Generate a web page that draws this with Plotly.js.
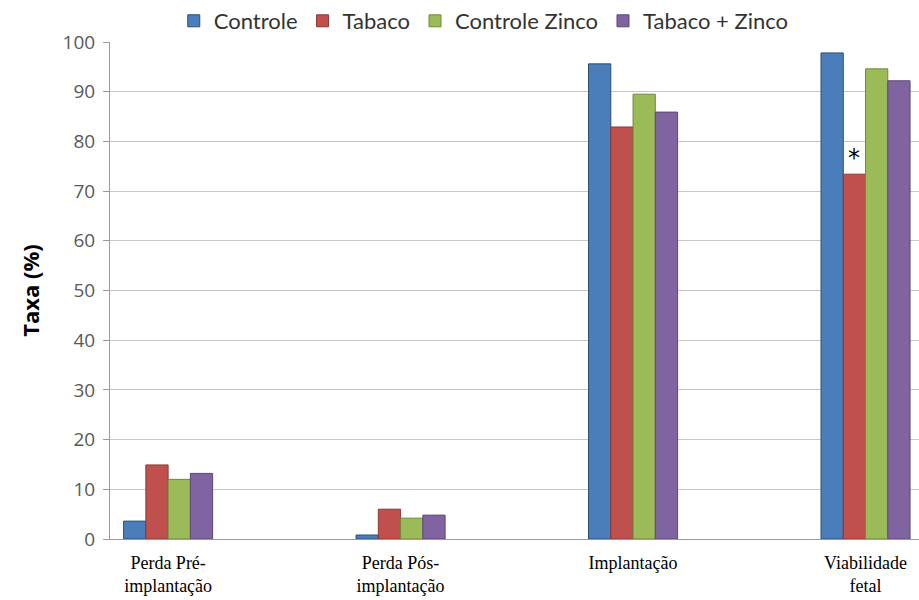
<!DOCTYPE html>
<html>
<head>
<meta charset="utf-8">
<script src="https://cdn.plot.ly/plotly-3.0.1.min.js"></script>
<style>html,body{margin:0;padding:0;background:#fff;}#chart{width:919px;height:600px;}</style>
</head>
<body>
<div id="chart"></div>
<script>
const categories = ["Perda Pré-<br>implantação", "Perda Pós-<br>implantação", "Implantação", "Viabilidade<br>fetal"];
const seriesNames = ["Controle", "Tabaco", "Controle Zinco", "Tabaco + Zinco"];
const controle = [3.6, 0.8, 95.6, 97.8];
const tabaco = [14.9, 6.0, 82.9, 73.4];
const controleZinco = [12.0, 4.2, 89.5, 94.6];
const tabacoZinco = [13.2, 4.8, 85.9, 92.2];
const yTicks = [0, 10, 20, 30, 40, 50, 60, 70, 80, 90, 100];

const colors = ["#4A7EBB", "#C0504D", "#9BBB59", "#8064A2"];
const lineColors = ["#2C4D75", "#8C3836", "#71893F", "#5C4776"];
const values = [controle, tabaco, controleZinco, tabacoZinco];
const bargap = 0.617;

const traces = values.map((v, i) => ({
  type: "bar",
  name: seriesNames[i],
  x: [0, 1, 2, 3],
  y: v,
  marker: {color: colors[i], line: {color: lineColors[i], width: 1}},
  hoverinfo: "x+y+name"
}));

const barWidth = (1 - bargap) / 4;

const layout = {
  width: 919,
  height: 600,
  margin: {l: 110, r: 0, t: 42, b: 61},
  paper_bgcolor: "#ffffff",
  plot_bgcolor: "#ffffff",
  barmode: "group",
  bargap: bargap,
  bargroupgap: 0,
  showlegend: true,
  legend: {
    orientation: "h",
    x: 0.462, xanchor: "center",
    y: 1.0, yanchor: "bottom",
    font: {family: "Lato, 'Open Sans', sans-serif", size: 22, color: "#333333"},
    itemwidth: 30,
    traceorder: "normal",
    tracegroupgap: 0
  },
  xaxis: {
    type: "linear",
    range: [-0.25, 3.23],
    tickmode: "array",
    tickvals: [0, 1, 2, 3],
    ticktext: categories,
    showgrid: false,
    zeroline: false,
    showline: true,
    linecolor: "#9a9a9a",
    linewidth: 1,
    ticks: "",
    ticklabelstandoff: 7,
    tickfont: {family: "'Liberation Serif', 'Times New Roman', serif", size: 18, color: "#000000"},
    fixedrange: true
  },
  yaxis: {
    range: [0, 100],
    tickmode: "array",
    tickvals: yTicks,
    ticktext: yTicks.map(String),
    showgrid: true,
    gridcolor: "#c8c8c8",
    gridwidth: 1,
    zeroline: false,
    showline: true,
    linecolor: "#9a9a9a",
    linewidth: 1,
    ticks: "outside",
    ticklen: 6,
    tickcolor: "#9a9a9a",
    ticklabelstandoff: 4,
    tickfont: {family: "'Open Sans', 'DejaVu Sans', sans-serif", size: 19, color: "#595959"},
    title: {text: "<b>Taxa (%)</b>", font: {family: "'Open Sans', 'DejaVu Sans', sans-serif", size: 22, color: "#000000"}, standoff: 16},
    fixedrange: true
  },
  annotations: [{
    x: 3 - 0.5 * barWidth,
    y: tabaco[3],
    xref: "x", yref: "y",
    text: "*",
    showarrow: false,
    yanchor: "bottom",
    yshift: 0,
    font: {family: "'DejaVu Sans', sans-serif", size: 24, color: "#000000"}
  }]
};

Plotly.newPlot("chart", traces, layout, {displayModeBar: false, staticPlot: true});
</script>
</body>
</html>
